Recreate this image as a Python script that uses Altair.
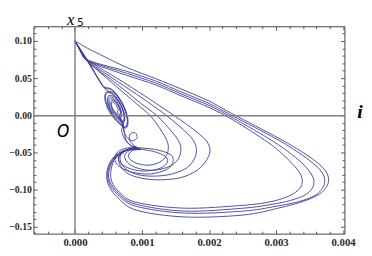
import altair as alt
import pandas as pd

# ---- trajectory pieces (i, x5) ----
big1_i = [0.0, 0.188e-3, 0.377e-3, 0.768e-3, 1.203e-3, 1.580e-3, 2.000e-3, 2.362e-3,
          3.029e-3, 3.377e-3, 3.609e-3, 3.739e-3, 3.783e-3, 3.754e-3, 3.638e-3, 3.406e-3, 3.029e-3,
          2.507e-3, 1.638e-3, 0.913e-3, 0.623e-3, 0.493e-3, 0.478e-3, 0.551e-3, 0.696e-3, 0.913e-3]
big1_x5 = [10.0e-2, 9.01e-2, 8.16e-2, 6.45e-2, 4.93e-2, 3.55e-2, 1.91e-2, 0.13e-2,
           -3.03e-2, -4.87e-2, -6.32e-2, -7.50e-2, -8.55e-2, -9.61e-2, -10.66e-2, -11.58e-2, -12.5e-2,
           -13.42e-2, -13.68e-2, -12.76e-2, -10.92e-2, -9.21e-2, -7.5e-2, -5.92e-2, -4.87e-2, -4.34e-2]

big2_i = [0.0, 0.0725e-3, 0.145e-3, 0.290e-3, 0.768e-3, 1.203e-3, 1.580e-3, 2.000e-3, 2.362e-3,
          3.000e-3, 3.333e-3, 3.551e-3, 3.681e-3, 3.725e-3, 3.696e-3, 3.580e-3, 3.348e-3, 3.000e-3,
          2.507e-3, 1.638e-3, 0.913e-3, 0.638e-3, 0.507e-3, 0.493e-3, 0.565e-3, 0.710e-3, 0.913e-3]
big2_x5 = [10.0e-2, 8.82e-2, 7.76e-2, 7.11e-2, 5.92e-2, 4.61e-2, 3.16e-2, 1.58e-2, -0.13e-2,
           -3.16e-2, -5.0e-2, -6.45e-2, -7.63e-2, -8.68e-2, -9.74e-2, -10.79e-2, -11.58e-2, -12.24e-2,
           -12.89e-2, -13.16e-2, -12.24e-2, -10.66e-2, -9.08e-2, -7.5e-2, -5.92e-2, -4.87e-2, -4.34e-2]

big3_i = [0.0, 0.0725e-3, 0.145e-3, 0.304e-3, 0.768e-3, 1.203e-3, 1.580e-3, 2.000e-3, 2.362e-3,
          2.942e-3, 3.232e-3, 3.420e-3, 3.522e-3, 3.565e-3, 3.536e-3, 3.420e-3, 3.217e-3, 2.942e-3,
          2.507e-3, 1.638e-3, 0.913e-3, 0.652e-3, 0.522e-3, 0.507e-3, 0.580e-3, 0.725e-3, 0.913e-3]
big3_x5 = [10.0e-2, 8.82e-2, 7.63e-2, 6.97e-2, 5.66e-2, 4.34e-2, 2.89e-2, 1.32e-2, -0.39e-2,
           -3.42e-2, -5.26e-2, -6.71e-2, -7.89e-2, -8.82e-2, -9.87e-2, -10.79e-2, -11.45e-2, -11.97e-2,
           -12.5e-2, -12.89e-2, -11.97e-2, -10.53e-2, -8.95e-2, -7.5e-2, -5.92e-2, -4.87e-2, -4.34e-2]

big4_i = [0.0, 0.0725e-3, 0.159e-3, 0.319e-3, 0.768e-3, 1.203e-3, 1.580e-3, 2.000e-3, 2.362e-3,
          2.884e-3, 3.116e-3, 3.275e-3, 3.362e-3, 3.391e-3, 3.362e-3, 3.261e-3, 3.101e-3, 2.870e-3,
          2.507e-3, 1.638e-3, 0.913e-3, 0.667e-3, 0.551e-3, 0.536e-3, 0.594e-3, 0.739e-3, 0.913e-3]
big4_x5 = [10.0e-2, 8.82e-2, 7.50e-2, 6.78e-2, 5.39e-2, 4.08e-2, 2.63e-2, 1.05e-2, -0.66e-2,
           -3.68e-2, -5.39e-2, -6.84e-2, -7.89e-2, -8.82e-2, -9.74e-2, -10.53e-2, -11.18e-2, -11.71e-2,
           -12.11e-2, -12.5e-2, -11.71e-2, -10.39e-2, -8.95e-2, -7.5e-2, -5.92e-2, -4.87e-2, -4.34e-2]

mid1_i = [0.0, 0.0725e-3, 0.145e-3, 0.261e-3, 0.623e-3, 1.058e-3, 1.493e-3, 1.797e-3, 1.957e-3, 2.014e-3,
          1.971e-3, 1.826e-3, 1.565e-3, 1.203e-3, 0.913e-3, 0.739e-3, 0.652e-3, 0.696e-3, 0.841e-3, 0.986e-3]
mid1_x5 = [10.0e-2, 8.82e-2, 7.76e-2, 6.97e-2, 5.0e-2, 2.50e-2, -0.13e-2, -2.11e-2, -3.42e-2, -4.61e-2,
           -5.92e-2, -7.37e-2, -8.42e-2, -8.68e-2, -8.29e-2, -7.50e-2, -6.18e-2, -5.0e-2, -4.47e-2, -4.61e-2]

mid2_i = [0.0, 0.0725e-3, 0.145e-3, 0.275e-3, 0.623e-3, 1.058e-3, 1.377e-3, 1.638e-3, 1.768e-3, 1.812e-3,
          1.768e-3, 1.638e-3, 1.377e-3, 1.058e-3, 0.826e-3, 0.696e-3, 0.681e-3, 0.797e-3, 0.986e-3]
mid2_x5 = [10.0e-2, 8.82e-2, 7.63e-2, 6.71e-2, 4.61e-2, 1.97e-2, -0.13e-2, -2.11e-2, -3.42e-2, -4.74e-2,
           -6.05e-2, -7.24e-2, -8.03e-2, -8.16e-2, -7.63e-2, -6.58e-2, -5.39e-2, -4.61e-2, -4.61e-2]

mid3_i = [0.0, 0.0725e-3, 0.159e-3, 0.290e-3, 0.623e-3, 0.986e-3, 1.232e-3, 1.435e-3, 1.551e-3, 1.580e-3,
          1.536e-3, 1.420e-3, 1.203e-3, 0.986e-3, 0.812e-3, 0.739e-3, 0.812e-3, 0.986e-3]
mid3_x5 = [10.0e-2, 8.82e-2, 7.50e-2, 6.45e-2, 4.21e-2, 1.58e-2, -0.13e-2, -2.11e-2, -3.55e-2, -4.74e-2,
           -5.92e-2, -6.84e-2, -7.37e-2, -7.24e-2, -6.58e-2, -5.53e-2, -4.74e-2, -4.61e-2]

mid4_i = [0.0, 0.0725e-3, 0.159e-3, 0.304e-3, 0.623e-3, 0.913e-3, 1.130e-3, 1.290e-3, 1.377e-3, 1.391e-3,
          1.348e-3, 1.232e-3, 1.058e-3, 0.884e-3, 0.797e-3, 0.855e-3, 0.986e-3]
mid4_x5 = [10.0e-2, 8.82e-2, 7.50e-2, 6.32e-2, 3.82e-2, 1.58e-2, -0.13e-2, -2.11e-2, -3.55e-2, -4.61e-2,
           -5.66e-2, -6.45e-2, -6.71e-2, -6.32e-2, -5.53e-2, -4.74e-2, -4.61e-2]

ring1_i = [0.913e-3, 1.203e-3, 1.420e-3, 1.464e-3, 1.377e-3, 1.130e-3, 0.841e-3, 0.638e-3, 0.594e-3, 0.696e-3, 0.913e-3]
ring1_x5 = [-4.34e-2, -4.61e-2, -5.26e-2, -6.18e-2, -7.24e-2, -7.89e-2, -7.63e-2, -6.71e-2, -5.53e-2, -4.61e-2, -4.21e-2]

ring2_i = [0.913e-3, 1.174e-3, 1.348e-3, 1.377e-3, 1.275e-3, 1.058e-3, 0.841e-3, 0.681e-3, 0.652e-3, 0.768e-3, 0.913e-3]
ring2_x5 = [-4.47e-2, -4.87e-2, -5.53e-2, -6.32e-2, -7.11e-2, -7.50e-2, -7.24e-2, -6.45e-2, -5.53e-2, -4.74e-2, -4.47e-2]

spiral_a_i = [0.986e-3, 0.884e-3, 0.812e-3, 0.826e-3, 0.899e-3, 0.928e-3, 0.855e-3, 0.768e-3, 0.725e-3, 0.696e-3,
              0.635e-3, 0.645e-3, 0.626e-3, 0.588e-3, 0.554e-3, 0.543e-3, 0.562e-3, 0.600e-3,
              0.675e-3, 0.697e-3, 0.658e-3, 0.583e-3, 0.513e-3, 0.491e-3, 0.530e-3, 0.606e-3,
              0.716e-3, 0.743e-3, 0.684e-3, 0.572e-3, 0.472e-3, 0.445e-3, 0.504e-3, 0.616e-3,
              0.749e-3, 0.781e-3, 0.703e-3, 0.562e-3, 0.439e-3,
              0.348e-3, 0.217e-3, 0.101e-3, 0.0]
spiral_a_x5 = [-4.61e-2, -4.08e-2, -3.29e-2, -2.50e-2, -2.37e-2, -3.03e-2, -3.42e-2, -2.89e-2, -1.97e-2, -0.92e-2,
               0.355e-2, 0.671e-2, 1.211e-2, 1.658e-2, 1.750e-2, 1.434e-2, 0.895e-2, 0.447e-2,
               -0.342e-2, 0.276e-2, 1.355e-2, 2.250e-2, 2.447e-2, 1.816e-2, 0.750e-2, -0.158e-2,
               -1.039e-2, -0.132e-2, 1.487e-2, 2.829e-2, 3.145e-2, 2.224e-2, 0.618e-2, -0.737e-2,
               -1.618e-2, -0.474e-2, 1.579e-2, 3.316e-2, 3.724e-2,
               4.87e-2, 6.84e-2, 8.42e-2, 10.0e-2]

spiral_b_i = [0.913e-3, 0.797e-3, 0.725e-3, 0.696e-3, 0.725e-3,
              0.670e-3, 0.683e-3, 0.654e-3, 0.597e-3, 0.548e-3, 0.535e-3, 0.564e-3, 0.620e-3,
              0.710e-3, 0.735e-3, 0.686e-3, 0.591e-3, 0.507e-3, 0.483e-3, 0.532e-3, 0.626e-3,
              0.751e-3, 0.781e-3, 0.712e-3, 0.581e-3, 0.467e-3,
              0.362e-3, 0.232e-3, 0.116e-3, 0.0]
spiral_b_x5 = [-4.34e-2, -3.82e-2, -2.89e-2, -1.97e-2, -1.18e-2,
               -0.132e-2, 0.329e-2, 1.132e-2, 1.816e-2, 1.974e-2, 1.513e-2, 0.711e-2, 0.026e-2,
               -0.829e-2, -0.053e-2, 1.289e-2, 2.408e-2, 2.671e-2, 1.895e-2, 0.553e-2, -0.579e-2,
               -1.526e-2, -0.461e-2, 1.408e-2, 3.000e-2, 3.368e-2,
               4.74e-2, 6.71e-2, 8.42e-2, 10.0e-2]

spiral_c_i = [0.986e-3, 0.855e-3, 0.768e-3, 0.739e-3, 0.725e-3, 0.681e-3,
              0.662e-3, 0.678e-3, 0.645e-3, 0.583e-3, 0.528e-3, 0.510e-3, 0.543e-3, 0.606e-3,
              0.709e-3, 0.735e-3, 0.678e-3, 0.572e-3, 0.480e-3, 0.454e-3, 0.512e-3, 0.616e-3,
              0.757e-3, 0.790e-3, 0.710e-3, 0.561e-3, 0.432e-3,
              0.333e-3, 0.203e-3, 0.087e-3, 0.0]
spiral_c_x5 = [-4.61e-2, -4.21e-2, -3.42e-2, -2.50e-2, -1.58e-2, -0.66e-2,
               -0.105e-2, 0.408e-2, 1.303e-2, 2.053e-2, 2.211e-2, 1.697e-2, 0.803e-2, 0.053e-2,
               -0.921e-2, -0.066e-2, 1.447e-2, 2.737e-2, 3.026e-2, 2.171e-2, 0.658e-2, -0.632e-2,
               -1.737e-2, -0.526e-2, 1.605e-2, 3.421e-2, 3.842e-2,
               5.13e-2, 7.11e-2, 8.68e-2, 10.0e-2]

# ---- axes ----
x_domain = [-0.00062, 0.00402]
y_domain = [-0.1592, 0.1197]
x_labels = [0.0, 0.001, 0.002, 0.003, 0.004]
y_labels = [-0.15, -0.10, -0.05, 0.0, 0.05, 0.10]
x_ticks = [-0.0006, -0.0004, -0.0002, 0.0, 0.0002, 0.0004, 0.0006, 0.0008, 0.001, 0.0012, 0.0014, 0.0016,
           0.0018, 0.002, 0.0022, 0.0024, 0.0026, 0.0028, 0.003, 0.0032, 0.0034, 0.0036, 0.0038, 0.004]
y_ticks = [-0.15, -0.14, -0.13, -0.12, -0.11, -0.10, -0.09, -0.08, -0.07, -0.06, -0.05, -0.04, -0.03, -0.02,
           -0.01, 0.0, 0.01, 0.02, 0.03, 0.04, 0.05, 0.06, 0.07, 0.08, 0.09, 0.10, 0.11]

segments = [
    ("big1", big1_i, big1_x5), ("big2", big2_i, big2_x5), ("big3", big3_i, big3_x5), ("big4", big4_i, big4_x5),
    ("mid1", mid1_i, mid1_x5), ("mid2", mid2_i, mid2_x5), ("mid3", mid3_i, mid3_x5), ("mid4", mid4_i, mid4_x5),
    ("ring1", ring1_i, ring1_x5), ("ring2", ring2_i, ring2_x5),
    ("spa", spiral_a_i, spiral_a_x5), ("spb", spiral_b_i, spiral_b_x5), ("spc", spiral_c_i, spiral_c_x5),
]
rows = []
for name, xs, ys in segments:
    for k, (a, b) in enumerate(zip(xs, ys)):
        rows.append({"seg": name, "k": k, "i": a, "x5": b})
df = pd.DataFrame(rows)

W, H = 318, 212
xs_ = alt.Scale(domain=x_domain, nice=False, zero=False)
ys_ = alt.Scale(domain=y_domain, nice=False, zero=False)
lab = dict(labelFont="Liberation Serif", labelFontWeight="bold", labelColor="#2a2a2a")
zero_grid = {"condition": {"test": "datum.value == 0", "value": 1}, "value": 0}
x_major = {"condition": {"test": "abs(datum.value*1000 - round(datum.value*1000)) < 1e-6", "value": 4}, "value": 2.5}
y_major = {"condition": {"test": "abs(datum.value*20 - round(datum.value*20)) < 1e-6", "value": 4}, "value": 2.5}

lines = alt.Chart(df).mark_line(interpolate="cardinal", strokeWidth=1.0, color="#3b3b9b", opacity=0.9).encode(
    x=alt.X("i:Q", scale=xs_, axis=alt.Axis(orient="bottom", values=x_labels, format=".3f", title=None, ticks=False,
                                             domain=False, labelFontSize=11, labelPadding=3, labelFlush=False,
                                             labelOverlap=False, grid=True, gridColor="#808080", gridWidth=1.5,
                                             gridOpacity=zero_grid, zindex=1, **lab)),
    y=alt.Y("x5:Q", scale=ys_, axis=alt.Axis(orient="left", values=y_labels, format=".2f", title=None, ticks=False,
                                              domain=False, labelFontSize=10, labelPadding=2, labelOverlap=False,
                                              grid=True, gridColor="#808080", gridWidth=1.5, gridOpacity=zero_grid,
                                              zindex=1, **lab)),
    detail="seg:N",
    order="k:Q",
)

tick_df = pd.DataFrame({"i": [0.0], "x5": [0.0]})
ticks_a = alt.Chart(tick_df).mark_point(opacity=0).encode(
    x=alt.X("i:Q", scale=xs_, axis=alt.Axis(orient="top", offset=-H, values=x_ticks, labels=False, domain=False,
                                             grid=False, title=None, tickColor="#555555", tickSize=x_major)),
    y=alt.Y("x5:Q", scale=ys_, axis=alt.Axis(orient="right", offset=-W, values=y_ticks, labels=False, domain=False,
                                              grid=False, title=None, tickColor="#555555", tickSize=y_major)),
)
ticks_b = alt.Chart(tick_df).mark_point(opacity=0).encode(
    x=alt.X("i:Q", scale=xs_, axis=alt.Axis(orient="bottom", offset=-H, values=x_ticks, labels=False, domain=False,
                                             grid=False, title=None, tickColor="#555555", tickSize=x_major)),
    y=alt.Y("x5:Q", scale=ys_, axis=alt.Axis(orient="left", offset=-W, values=y_ticks, labels=False, domain=False,
                                              grid=False, title=None, tickColor="#555555", tickSize=y_major)),
)

t_x = alt.Chart(pd.DataFrame({"t": ["x"]})).mark_text(font="Liberation Serif", fontStyle="italic", fontSize=17,
                                                       color="black", align="center", baseline="alphabetic").encode(
    text="t:N", x=alt.value(38), y=alt.value(-1))
t_5 = alt.Chart(pd.DataFrame({"t": ["5"]})).mark_text(font="Noto Sans", fontSize=11, color="black", align="center",
                                                       baseline="alphabetic").encode(
    text="t:N", x=alt.value(48), y=alt.value(-0.5))
t_i = alt.Chart(pd.DataFrame({"t": ["i"]})).mark_text(font="Liberation Serif", fontStyle="italic", fontWeight="bold",
                                                       fontSize=20, color="black", align="center",
                                                       baseline="alphabetic").encode(
    text="t:N", x=alt.value(334), y=alt.value(94))
t_o = alt.Chart(pd.DataFrame({"t": ["O"]})).mark_text(font="Noto Sans", fontStyle="italic", fontSize=18,
                                                       color="black", align="center", baseline="alphabetic").encode(
    text="t:N", x=alt.value(30), y=alt.value(113))

chart = alt.layer(lines, ticks_a, ticks_b, t_x, t_5, t_i, t_o).resolve_axis(
    x="independent", y="independent"
).properties(
    width=W, height=H,
    autosize=alt.AutoSizeParams(type="none"),
    padding={"left": 26, "top": 16, "right": 20, "bottom": 12},
).configure_view(stroke="#444444", strokeWidth=1)

chart.save("out.html", embed_options={"renderer": "svg", "actions": False})
